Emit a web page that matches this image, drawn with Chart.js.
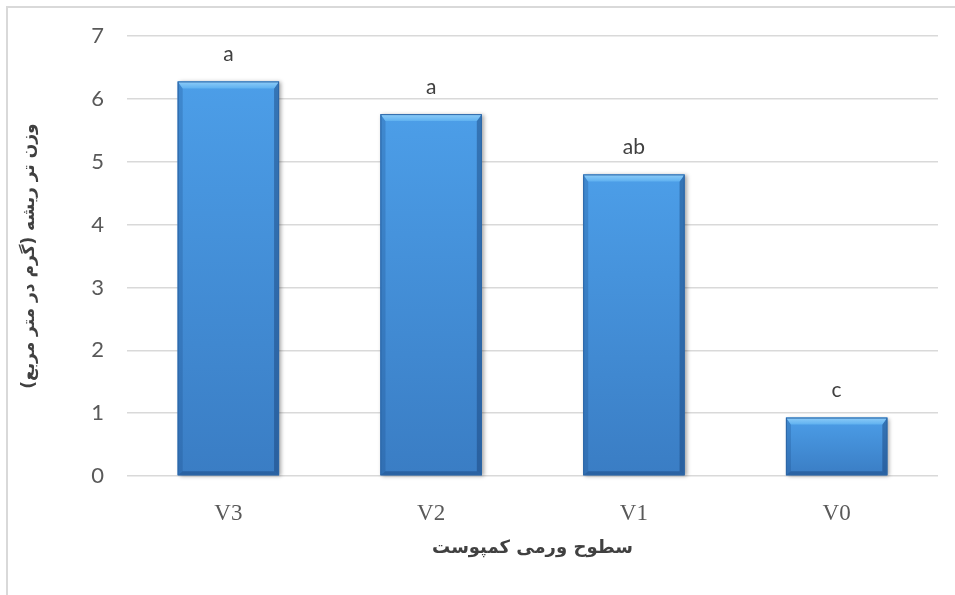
<!DOCTYPE html>
<html>
<head>
<meta charset="utf-8">
<script src="https://cdn.jsdelivr.net/npm/chart.js@4.4.1/dist/chart.umd.min.js"></script>
<style>
  html, body { margin: 0; padding: 0; background: #ffffff; }
  #wrap { position: relative; width: 955px; height: 595px; overflow: hidden; }
  #frame { position: absolute; left: 6px; top: 6px; width: 1200px; height: 1200px;
           border-left: 2px solid #d9d9d9; border-top: 2px solid #d9d9d9; }
  #c { position: absolute; left: 0; top: 0; }
</style>
</head>
<body>
<div id="wrap">
  <div id="frame"></div>
  <canvas id="c" width="955" height="595"></canvas>
</div>
<script>
// Vermicompost levels and root fresh weight (g per m²)
const categories = ['V3', 'V2', 'V1', 'V0'];
const rootFreshWeight = [6.28, 5.76, 4.80, 0.93];
const groupLetters = ['a', 'a', 'ab', 'c'];
const yTicks = [0, 1, 2, 3, 4, 5, 6, 7];

const xTitle = 'سطوح ورمی کمپوست';
const yTitle = 'وزن تر ریشه (گرم در متر مربع)';

// Bevelled, shaded look for each bar, drawn over the bar element's own geometry
const barBevel = {
  id: 'barBevel',
  afterDatasetsDraw(chart) {
    const ctx = chart.ctx;
    chart.getDatasetMeta(0).data.forEach(bar => {
      const { x, y, base, width } = bar.getProps(['x', 'y', 'base', 'width'], true);
      const l = x - width / 2, r = x + width / 2, t = y, b = base, h = b - t;
      const bv = 7, bs = 5, bb = 4;

      ctx.save();
      // soft drop shadow
      ctx.shadowColor = 'rgba(0,0,0,0.35)';
      ctx.shadowBlur = 4;
      ctx.shadowOffsetX = 2;
      ctx.shadowOffsetY = 1;
      const body = ctx.createLinearGradient(0, t, 0, b);
      body.addColorStop(0, '#4c9ee8');
      body.addColorStop(1, '#3a7dc4');
      ctx.fillStyle = body;
      ctx.fillRect(l, t, width, h);
      ctx.restore();

      ctx.save();
      // left side bevel
      ctx.beginPath();
      ctx.moveTo(l, t); ctx.lineTo(l + bs, t + bv); ctx.lineTo(l + bs, b - bb); ctx.lineTo(l, b);
      ctx.closePath();
      ctx.fillStyle = 'rgba(25,70,130,0.25)';
      ctx.fill();
      // right side bevel
      ctx.beginPath();
      ctx.moveTo(r, t); ctx.lineTo(r - bs, t + bv); ctx.lineTo(r - bs, b - bb); ctx.lineTo(r, b);
      ctx.closePath();
      ctx.fillStyle = 'rgba(15,50,100,0.38)';
      ctx.fill();
      // bottom bevel
      ctx.beginPath();
      ctx.moveTo(l, b); ctx.lineTo(l + bs, b - bb); ctx.lineTo(r - bs, b - bb); ctx.lineTo(r, b);
      ctx.closePath();
      ctx.fillStyle = 'rgba(15,50,100,0.35)';
      ctx.fill();
      // top highlight bevel
      ctx.beginPath();
      ctx.moveTo(l, t); ctx.lineTo(r, t); ctx.lineTo(r - bs, t + bv); ctx.lineTo(l + bs, t + bv);
      ctx.closePath();
      const top = ctx.createLinearGradient(0, t, 0, t + bv);
      top.addColorStop(0, '#8fcdf8');
      top.addColorStop(1, '#5fb1f0');
      ctx.fillStyle = top;
      ctx.fill();
      // outline
      ctx.strokeStyle = '#2d66a6';
      ctx.lineWidth = 1;
      ctx.strokeRect(l + 0.5, t + 0.5, width - 1, h - 1);
      ctx.restore();
    });
  }
};

// Significance letters above each bar
const letterLabels = {
  id: 'letterLabels',
  afterDatasetsDraw(chart) {
    const ctx = chart.ctx;
    ctx.save();
    ctx.font = '21px Lato';
    ctx.fillStyle = '#404040';
    ctx.textAlign = 'center';
    ctx.textBaseline = 'middle';
    chart.getDatasetMeta(0).data.forEach((bar, i) => {
      ctx.fillText(groupLetters[i], bar.x, bar.y - 27);
    });
    ctx.restore();
  }
};

new Chart(document.getElementById('c'), {
  type: 'bar',
  data: {
    labels: categories,
    datasets: [{
      data: rootFreshWeight,
      backgroundColor: '#4590dc',
      borderWidth: 0,
      categoryPercentage: 1.0,
      barPercentage: 0.5
    }]
  },
  options: {
    responsive: false,
    animation: false,
    devicePixelRatio: 1,
    layout: { padding: { left: 0, top: 36, right: 17, bottom: 0 } },
    plugins: { legend: { display: false }, tooltip: { enabled: false } },
    scales: {
      x: {
        grid: { display: false },
        border: { display: false },
        ticks: { color: '#595959', font: { family: 'Liberation Serif', size: 23 }, padding: 16 },
        title: {
          display: true, text: xTitle, color: '#404040',
          font: { family: 'DejaVu Sans', size: 18, weight: 'bold' },
          padding: { top: 0, bottom: 36 }
        },
        afterFit(scale) { scale.height = 119; }
      },
      y: {
        min: 0, max: 7,
        afterBuildTicks(scale) { scale.ticks = yTicks.map(v => ({ value: v })); },
        grid: { color: '#d9d9d9', lineWidth: 1.5, drawTicks: false },
        border: { display: false },
        ticks: { color: '#595959', font: { family: 'Lato', size: 22 }, padding: 23 },
        title: {
          display: true, text: yTitle, color: '#404040',
          font: { family: 'DejaVu Sans', size: 17, weight: 'bold' },
          padding: { top: 19, bottom: 0 }
        },
        afterFit(scale) { scale.width = 127; }
      }
    }
  },
  plugins: [barBevel, letterLabels]
});
</script>
</body>
</html>
